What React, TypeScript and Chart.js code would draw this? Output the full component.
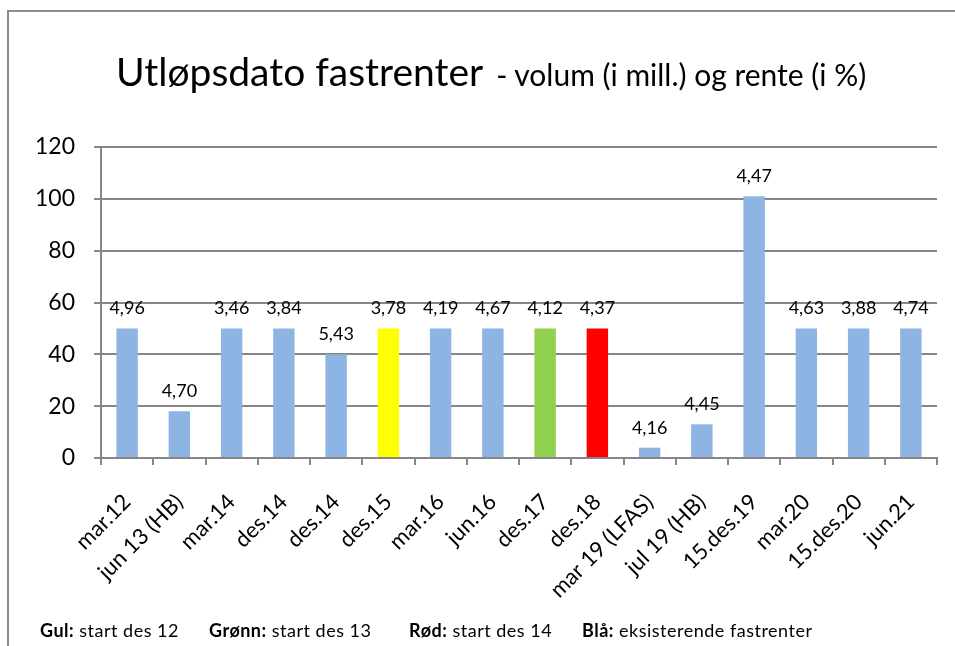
import React, { useEffect, useRef } from "react";
import { Chart, registerables } from "chart.js";

Chart.register(...registerables);

const categories = [
  "mar.12", "jun 13 (HB)", "mar.14", "des.14", "des.14", "des.15", "mar.16", "jun.16",
  "des.17", "des.18", "mar 19 (LFAS)", "jul 19 (HB)", "15.des.19", "mar.20", "15.des.20", "jun.21",
];
const volumes = [50, 18, 50, 50, 40, 50, 50, 50, 50, 50, 4, 13, 101, 50, 50, 50];
const rates = ["4,96", "4,70", "3,46", "3,84", "5,43", "3,78", "4,19", "4,67", "4,12", "4,37", "4,16", "4,45", "4,47", "4,63", "3,88", "4,74"];
// start group for each category ("" = existing fixed rate)
const startGroup = ["", "", "", "", "", "des12", "", "", "des13", "des14", "", "", "", "", "", ""];
const yTicks = [0, 20, 40, 60, 80, 100, 120];

const groupColors: Record<string, string> = {
  "": "#8EB4E3",
  des12: "#FFFF00",
  des13: "#92D050",
  des14: "#FF0000",
};

const FONT = "Lato, 'Open Sans', sans-serif";

const valueLabels = {
  id: "valueLabels",
  afterDatasetsDraw(chart: any) {
    const ctx = chart.ctx;
    const meta = chart.getDatasetMeta(0);
    ctx.save();
    ctx.font = `18px ${FONT}`;
    ctx.fillStyle = "#000";
    ctx.textAlign = "center";
    ctx.textBaseline = "alphabetic";
    meta.data.forEach((bar: any, i: number) => {
      ctx.fillText(rates[i], bar.x, bar.y - 14);
    });
    ctx.restore();
  },
};

export default function App() {
  const ref = useRef<HTMLCanvasElement>(null);
  useEffect(() => {
    document.body.style.margin = "0";
    document.body.style.overflow = "hidden";
    if (!ref.current) return;
    const chart = new Chart(ref.current, {
      type: "bar",
      data: {
        labels: categories,
        datasets: [
          {
            data: volumes,
            backgroundColor: startGroup.map((g) => groupColors[g]),
            barPercentage: 0.41,
            categoryPercentage: 1,
          },
        ],
      },
      options: {
        animation: false,
        responsive: false,
        layout: { padding: { top: 147, right: 18, left: 0, bottom: 0 } },
        plugins: { legend: { display: false }, tooltip: { enabled: false } },
        scales: {
          x: {
            grid: {
              offset: true,
              drawOnChartArea: false,
              color: "#868686",
              lineWidth: 2,
              tickLength: 7,
            },
            border: { color: "#868686", width: 2 },
            ticks: {
              color: "#000",
              font: { family: FONT, size: 22 },
              maxRotation: 45,
              minRotation: 45,
              autoSkip: false,
              padding: 24,
            },
            afterFit(scale: any) {
              scale.height = 646 - 458;
            },
          },
          y: {
            min: 0,
            max: 120,
            afterBuildTicks(scale: any) {
              scale.ticks = yTicks.map((v) => ({ value: v }));
            },
            grid: { color: "#868686", lineWidth: 2, tickLength: 7 },
            border: { color: "#868686", width: 2 },
            ticks: {
              color: "#000",
              font: { family: FONT, size: 23 },
              padding: 19,
            },
            afterFit(scale: any) {
              scale.width = 101;
            },
          },
        },
      },
      plugins: [valueLabels],
    });
    return () => chart.destroy();
  }, []);

  return (
    <div style={{ position: "fixed", left: 0, top: 0, width: 955, height: 646, background: "#fff", overflow: "hidden", fontFamily: FONT }}>
      <div style={{ position: "absolute", left: 7, top: 10, width: 960, height: 2, background: "#8c8c8c" }} />
      <div style={{ position: "absolute", left: 7, top: 10, width: 2, height: 650, background: "#8c8c8c" }} />
      <canvas ref={ref} width={955} height={646} style={{ position: "absolute", left: 0, top: 0 }} />
      <div style={{ position: "absolute", left: 116, top: 48, whiteSpace: "nowrap", color: "#000" }}>
        <span style={{ fontSize: 39 }}>Utløpsdato fastrenter</span>
        <span style={{ fontSize: 30, marginLeft: 13 }}>- volum (i mill.) og rente (i %)</span>
      </div>
      <div style={{ position: "absolute", left: 0, top: 619, fontSize: 18, letterSpacing: 0.5, color: "#000", whiteSpace: "nowrap" }}>
        <span style={{ position: "absolute", left: 40 }}><b>Gul:</b> start des 12</span>
        <span style={{ position: "absolute", left: 209 }}><b>Grønn:</b> start des 13</span>
        <span style={{ position: "absolute", left: 409 }}><b>Rød:</b> start des 14</span>
        <span style={{ position: "absolute", left: 582 }}><b>Blå:</b> eksisterende fastrenter</span>
      </div>
    </div>
  );
}
